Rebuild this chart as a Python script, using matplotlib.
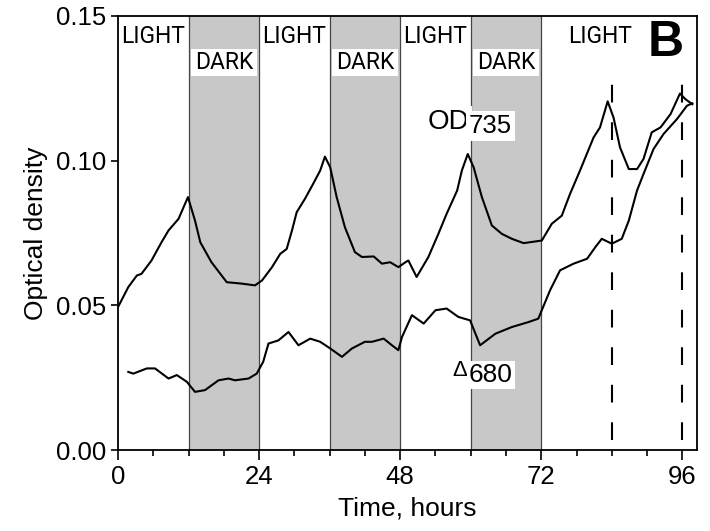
import matplotlib
matplotlib.use('Agg')
import matplotlib.pyplot as plt
import numpy as np

plt.rcParams['font.family'] = ['Liberation Sans', 'DejaVu Sans']

# light/dark schedule (hours)
dark_periods = [(12, 24), (36, 48), (60, 72)]
light_centers = [6, 30, 54, 82]
dashed_times = [84, 96]

# OD735 trace
od_t = [0.0, 1.75, 3.2, 4.0, 5.7, 7.4, 8.6, 10.3, 11.9, 13.1, 14.0, 15.9, 18.5,
        21.1, 23.3, 24.5, 26.2, 27.6, 28.7, 29.6, 30.4, 31.8, 33.2, 34.4, 35.2,
        36.1, 37.2, 38.6, 40.3, 41.5, 43.5, 44.9, 46.3, 47.7, 48.9, 49.4, 50.8,
        52.8, 54.5, 55.9, 57.7, 58.5, 59.5, 60.5, 61.9, 63.6, 65.3, 67.0, 69.0,
        72.1, 73.8, 75.5, 76.9, 78.6, 80.9, 82.0, 83.3, 84.3, 85.4, 86.9, 88.3,
        89.4, 90.8, 92.3, 94.0, 95.6, 96.5, 97.7]
od_v = [0.0494, 0.0563, 0.0603, 0.0609, 0.0655, 0.0718, 0.0759, 0.0799, 0.0874,
        0.0793, 0.0718, 0.0649, 0.058, 0.0575, 0.0569, 0.0586, 0.0632, 0.0678,
        0.0695, 0.0759, 0.0822, 0.0868, 0.092, 0.0966, 0.1014, 0.0977, 0.0874,
        0.077, 0.0684, 0.0667, 0.0669, 0.0644, 0.0649, 0.0632, 0.0649, 0.0655,
        0.0598, 0.0667, 0.0747, 0.0816, 0.0897, 0.0966, 0.1023, 0.0977, 0.0874,
        0.0776, 0.0747, 0.073, 0.0715, 0.0724, 0.0782, 0.081, 0.0885, 0.0966,
        0.108, 0.1115, 0.1205, 0.1149, 0.1046, 0.0971, 0.0971, 0.1006, 0.1098,
        0.1115, 0.1161, 0.1232, 0.1213, 0.1195]

# delta 680 trace
d_t = [1.75, 2.6, 4.9, 6.3, 8.6, 10.0, 11.7, 13.1, 14.8, 17.1, 18.8, 19.9, 22.2,
       23.6, 24.7, 25.6, 27.3, 29.0, 30.7, 32.7, 34.4, 36.1, 38.1, 39.8, 42.0,
       43.2, 45.2, 46.6, 47.7, 48.3, 50.0, 52.0, 54.0, 55.9, 57.9, 59.9, 61.6,
       64.2, 67.0, 69.8, 71.5, 73.5, 75.2, 77.5, 79.8, 81.2, 82.3, 84.0, 85.7,
       86.9, 88.3, 89.4, 91.1, 92.8, 95.1, 96.8, 97.7]
d_v = [0.027, 0.0264, 0.0282, 0.0282, 0.0247, 0.0259, 0.0236, 0.0201, 0.0207,
       0.0241, 0.0247, 0.0241, 0.0247, 0.0264, 0.0305, 0.0368, 0.0379, 0.0408,
       0.0362, 0.0385, 0.0374, 0.0351, 0.0322, 0.0351, 0.0374, 0.0374, 0.0385,
       0.0362, 0.0345, 0.039, 0.0466, 0.0437, 0.0483, 0.0489, 0.046, 0.0448,
       0.0362, 0.0402, 0.0425, 0.0442, 0.0454, 0.0552, 0.0621, 0.0644, 0.0661,
       0.0701, 0.073, 0.0713, 0.073, 0.0793, 0.0897, 0.0954, 0.104, 0.1092,
       0.1144, 0.119, 0.1198]

fig = plt.figure(figsize=(7.1, 5.31), dpi=100)
ax = fig.add_axes([0.1662, 0.1525, 0.8155, 0.8174])

# shaded dark periods with their border lines
for a, b in dark_periods:
    ax.axvspan(a, b, color='#c8c8c8', lw=0, zorder=0)
    ax.axvline(a, color='#444444', lw=0.9, zorder=1)
    ax.axvline(b, color='#444444', lw=0.9, zorder=1)
    ax.text((a + b) / 2, 0.134, 'DARK', family='Roboto', fontsize=16.5,
            ha='center', va='center', zorder=3)
    ax.fill_between([a + 0.4, b - 0.3], 0.1293, 0.1386, color='white', lw=0, zorder=2)

for c in light_centers:
    ax.text(c, 0.1428, 'LIGHT', family='Roboto', fontsize=16.5,
            ha='center', va='center', zorder=3)

for t in dashed_times:
    ax.plot([t, t], [0.0035, 0.1293], color='black', lw=1.5,
            ls=(0, (8.5, 9.5)), zorder=2)

ax.plot(od_t, od_v, color='black', lw=1.5, zorder=4)
ax.plot(d_t, d_v, color='black', lw=1.5, zorder=4)

# curve labels
od = ax.text(52.6, 0.1134, 'OD', fontsize=20, ha='left', va='center', zorder=5,
             bbox=dict(facecolor='white', edgecolor='none', pad=2))
ax.annotate('735', xy=(1, 0.5), xycoords=od, xytext=(0, -3),
            textcoords='offset points', fontsize=18.5, ha='left', va='center',
            zorder=5, bbox=dict(facecolor='white', edgecolor='none', pad=2))
dl = ax.text(56.8, 0.0274, '\u0394', fontsize=16, ha='left', va='center', zorder=5,
             bbox=dict(facecolor='white', edgecolor='none', pad=1.5))
ax.annotate('680', xy=(1, 0.5), xycoords=dl, xytext=(1.5, -3),
            textcoords='offset points', fontsize=19, ha='left', va='center',
            zorder=5, bbox=dict(facecolor='white', edgecolor='none', pad=1.5))

ax.text(93.1, 0.1405, 'B', fontsize=36, fontweight='bold', ha='center',
        va='center', zorder=5)

ax.set_xlim(0, 98.5)
ax.set_ylim(0, 0.15)
ax.set_xticks([0, 24, 48, 72, 96])
ax.set_xticks(np.arange(6, 97, 6), minor=True)
ax.set_yticks([0, 0.05, 0.10, 0.15])
ax.set_yticklabels(['0.00', '0.05', '0.10', '0.15'])
ax.tick_params(axis='both', which='major', labelsize=18.5, direction='out',
               width=1.2, length=5)
ax.tick_params(axis='x', which='major', length=7)
ax.tick_params(axis='x', which='minor', direction='out', width=1.2, length=4)
for s in ax.spines.values():
    s.set_linewidth(1.3)
ax.set_xlabel('Time, hours', fontsize=19, labelpad=6)
ax.set_ylabel('Optical density', fontsize=19, labelpad=6)

fig.savefig('out.png', dpi=100)
